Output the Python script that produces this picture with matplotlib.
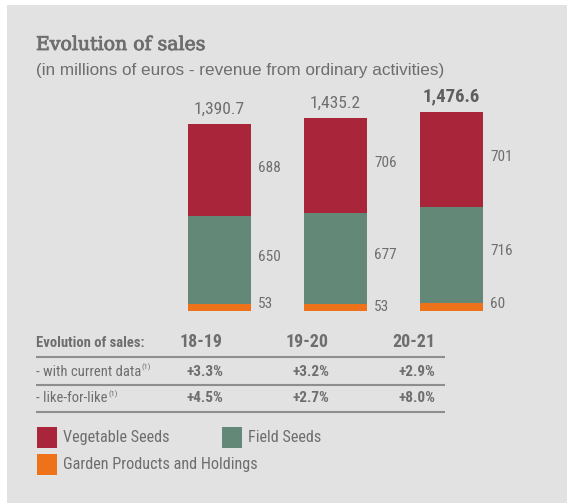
import matplotlib
matplotlib.use("Agg")
import matplotlib.pyplot as plt
import matplotlib.patheffects as pe
from matplotlib.patches import Rectangle

# ---- data -------------------------------------------------------------
years = ["18-19", "19-20", "20-21"]
vegetable = [688, 706, 701]
field = [650, 677, 716]
garden = [53, 53, 60]
totals = [1390.7, 1435.2, 1476.6]
total_labels = ["1,390.7", "1,435.2", "1,476.6"]
growth_current = ["+3.3%", "+3.2%", "+2.9%"]
growth_lfl = ["+4.5%", "+2.7%", "+8.0%"]
series_names = ["Vegetable Seeds", "Field Seeds", "Garden Products and Holdings"]

# ---- style ------------------------------------------------------------
C_VEG = "#A8253A"
C_FIELD = "#638878"
C_GARDEN = "#EE7219"
C_BG = "#E2E2E2"
C_TEXT = "#6E6E6E"
C_RULE = "#8E8E8E"
NARROW = ["Roboto Condensed", "DejaVu Sans"]
SANS = ["Liberation Sans", "DejaVu Sans"]
SLAB = ["Roboto Slab", "DejaVu Serif"]

W, H = 567, 503
fig = plt.figure(figsize=(W / 100, H / 100), dpi=100)
fig.patch.set_facecolor("white")

# overlay axes in pixel coordinates for the panel, headings, table, legend
ov = fig.add_axes([0, 0, 1, 1])
ov.set_xlim(0, W)
ov.set_ylim(H, 0)
ov.axis("off")
ov.add_patch(Rectangle((7, 5), W - 7, H - 5, facecolor=C_BG, edgecolor="none", zorder=0))

# slab title with a thin outline for a medium-weight look
ov.text(36, 45, "Evolution of sales", family=SLAB, fontsize=13.6,
        color=C_TEXT, va="center", ha="left",
        path_effects=[pe.withStroke(linewidth=0.6, foreground=C_TEXT)])
ov.text(36, 70, "(in millions of euros - revenue from ordinary activities)",
        family=SANS, fontsize=12.3, color=C_TEXT, va="center", ha="left")

# ---- stacked bars -----------------------------------------------------
px_per_unit = 0.1342
bar_bottom_px = 310.7
ymax = 1500
ax_h = ymax * px_per_unit
left_px, right_px = 161.5, 509.5
ax = fig.add_axes([left_px / W, (H - bar_bottom_px) / H,
                   (right_px - left_px) / W, ax_h / H])
ax.set_xlim(-0.5, 2.5)
ax.set_ylim(0, ymax)
ax.axis("off")
ax.patch.set_alpha(0)

x = list(range(len(years)))
bw = 63 / 116
bottom_field = garden
bottom_veg = [g + f for g, f in zip(garden, field)]
ax.bar(x, garden, width=bw, color=C_GARDEN, linewidth=0)
ax.bar(x, field, width=bw, bottom=bottom_field, color=C_FIELD, linewidth=0)
ax.bar(x, vegetable, width=bw, bottom=bottom_veg, color=C_VEG, linewidth=0)

lab_dx = bw / 2 + 7 / 116
for i in x:
    ax.text(i + lab_dx, bottom_veg[i] + vegetable[i] / 2 + 20, str(vegetable[i]),
            family=NARROW, fontsize=11, color=C_TEXT, va="center", ha="left")
    ax.text(i + lab_dx, bottom_field[i] + field[i] / 2 + 25, str(field[i]),
            family=NARROW, fontsize=11, color=C_TEXT, va="center", ha="left")
    ax.text(i + lab_dx, garden[i] / 2 + (20 if i != 1 else 0), str(garden[i]),
            family=NARROW, fontsize=11, color=C_TEXT, va="center", ha="left")
    bold = i == len(x) - 1
    ax.text(i, totals[i] + 55, total_labels[i], family=NARROW,
            fontsize=13.5 if bold else 12.5,
            color="#5E5E5E" if bold else C_TEXT,
            fontweight="bold" if bold else "normal",
            va="bottom", ha="center", clip_on=False)

# ---- growth table -----------------------------------------------------
col_right = [223, 329, 435]
ov.text(36, 343, "Evolution of sales:", family=NARROW, fontsize=10.5,
        fontweight="bold", color=C_TEXT, va="center", ha="left")
for cx, yr in zip(col_right, years):
    ov.text(cx, 342, yr, family=NARROW, fontsize=13, fontweight="bold",
            color=C_TEXT, va="center", ha="right")
for yl in (356.7, 385, 411.7):
    ov.plot([36, 445], [yl, yl], color=C_RULE, lw=1.5, solid_capstyle="butt")

rows = [("- with current data", growth_current, 371.5),
        ("- like-for-like", growth_lfl, 398.5)]
for label, vals, yy in rows:
    t = ov.text(36, yy, label, family=NARROW, fontsize=10.5, color=C_TEXT,
                va="center", ha="left")
    ov.annotate("(1)", xy=(1, 0.5), xycoords=t, xytext=(0.5, 0.5),
                textcoords="offset points", family=NARROW, fontsize=6,
                color=C_TEXT, va="bottom", ha="left")
    for cx, v in zip(col_right, vals):
        ov.text(cx, yy, v, family=NARROW, fontsize=11, fontweight="bold",
                color=C_TEXT, va="center", ha="right")

# ---- legend -----------------------------------------------------------
legend_items = [(37, 427, C_VEG, series_names[0]),
                (222, 427, C_FIELD, series_names[1]),
                (37, 454, C_GARDEN, series_names[2])]
for lx, ly, col, name in legend_items:
    ov.add_patch(Rectangle((lx, ly), 19.5, 20.5, facecolor=col, edgecolor="none"))
    ov.text(lx + 26, ly + 10.5, name, family=NARROW, fontsize=11.7,
            color=C_TEXT, va="center", ha="left")

fig.savefig("out.png", dpi=100, facecolor=fig.get_facecolor())
